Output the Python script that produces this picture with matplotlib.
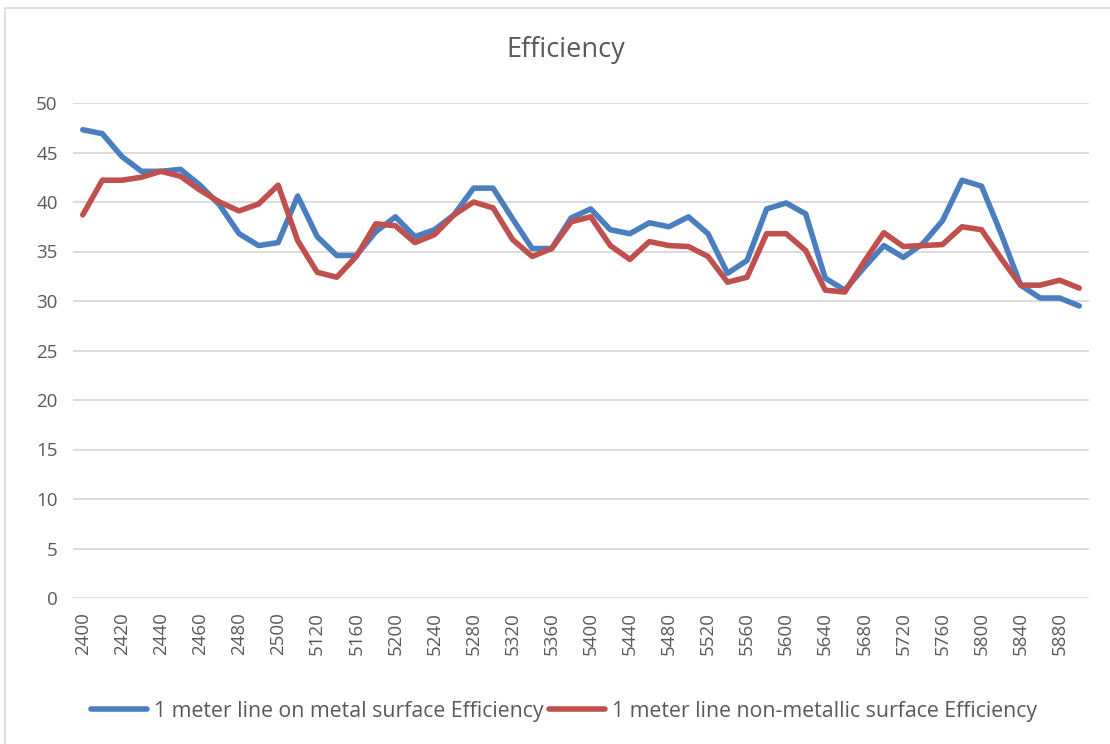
import matplotlib
matplotlib.use("Agg")
import matplotlib.pyplot as plt
from matplotlib.patches import Rectangle

plt.rcParams["font.family"] = ["Open Sans", "DejaVu Sans"]

# frequencies (MHz) on the category axis
freqs = [2400, 2410, 2420, 2430, 2440, 2450, 2460, 2470, 2480, 2490, 2500,
         5100, 5120, 5140, 5160, 5180, 5200, 5220, 5240, 5260, 5280, 5300,
         5320, 5340, 5360, 5380, 5400, 5420, 5440, 5460, 5480, 5500, 5520,
         5540, 5560, 5580, 5600, 5620, 5640, 5660, 5680, 5700, 5720, 5740,
         5760, 5780, 5800, 5820, 5840, 5860, 5880, 5900]

metal_eff = [47.3, 46.9, 44.6, 43.1, 43.1, 43.3, 41.7, 39.7, 36.8, 35.6, 35.9,
             40.6, 36.5, 34.6, 34.6, 37.0, 38.5, 36.5, 37.2, 38.7, 41.4, 41.4,
             38.3, 35.3, 35.3, 38.4, 39.3, 37.2, 36.8, 37.9, 37.5, 38.5, 36.8,
             32.8, 34.1, 39.3, 39.9, 38.8, 32.3, 31.1, 33.4, 35.6, 34.4, 35.8,
             38.1, 42.2, 41.6, 36.8, 31.6, 30.3, 30.3, 29.5]

nonmetal_eff = [38.7, 42.2, 42.2, 42.5, 43.1, 42.6, 41.2, 40.0, 39.1, 39.8, 41.7,
                36.1, 32.9, 32.4, 34.5, 37.8, 37.6, 35.9, 36.7, 38.7, 40.0, 39.4,
                36.2, 34.5, 35.3, 38.0, 38.5, 35.6, 34.2, 36.0, 35.6, 35.5, 34.5,
                31.9, 32.4, 36.8, 36.8, 35.1, 31.1, 30.9, 34.0, 36.9, 35.5, 35.6,
                35.7, 37.5, 37.2, 34.3, 31.6, 31.6, 32.1, 31.3]

text_color = "#595959"
grid_color = "#d9d9d9"

fig = plt.figure(figsize=(11.1, 7.44), dpi=100)
fig.patches.append(Rectangle((5 / 1110, -0.01), 1.02, 1 - 8 / 744 + 0.01,
                             transform=fig.transFigure, fill=False,
                             edgecolor=grid_color, linewidth=1.2))

ax = fig.add_axes([73 / 1110, 1 - 598 / 744, (1089 - 73) / 1110, (598 - 103) / 744])
x = list(range(len(freqs)))
ax.plot(x, metal_eff, color="#4a7ebf", linewidth=4.0, solid_capstyle="round",
        solid_joinstyle="round", label="1 meter line on metal surface Efficiency")
ax.plot(x, nonmetal_eff, color="#c0504d", linewidth=4.0, solid_capstyle="round",
        solid_joinstyle="round", label="1 meter line non-metallic surface Efficiency")

ax.set_xlim(-0.5, len(freqs) - 0.5)
ax.set_ylim(0, 50)
ax.set_yticks(range(0, 51, 5))
ax.set_xticks(x[::2])
ax.set_xticklabels([str(f) for f in freqs[::2]], rotation=90)
ax.tick_params(axis="both", length=0, colors=text_color, labelsize=13.5)
ax.tick_params(axis="x", pad=10)
ax.tick_params(axis="y", pad=11)
ax.grid(axis="y", color=grid_color, linewidth=1.3)
ax.set_axisbelow(True)
for s in ax.spines.values():
    s.set_visible(False)

fig.text(566 / 1110, 1 - 57 / 744, "Efficiency", ha="center", va="baseline",
         fontsize=19.5, color=text_color)

fig.legend(loc="center", bbox_to_anchor=(564 / 1110, 1 - 711 / 744), ncol=2,
           frameon=False, fontsize=15.3, handlelength=2.65, columnspacing=0.25,
           handletextpad=0.33, labelcolor=text_color)

fig.savefig("out.png", dpi=100)
